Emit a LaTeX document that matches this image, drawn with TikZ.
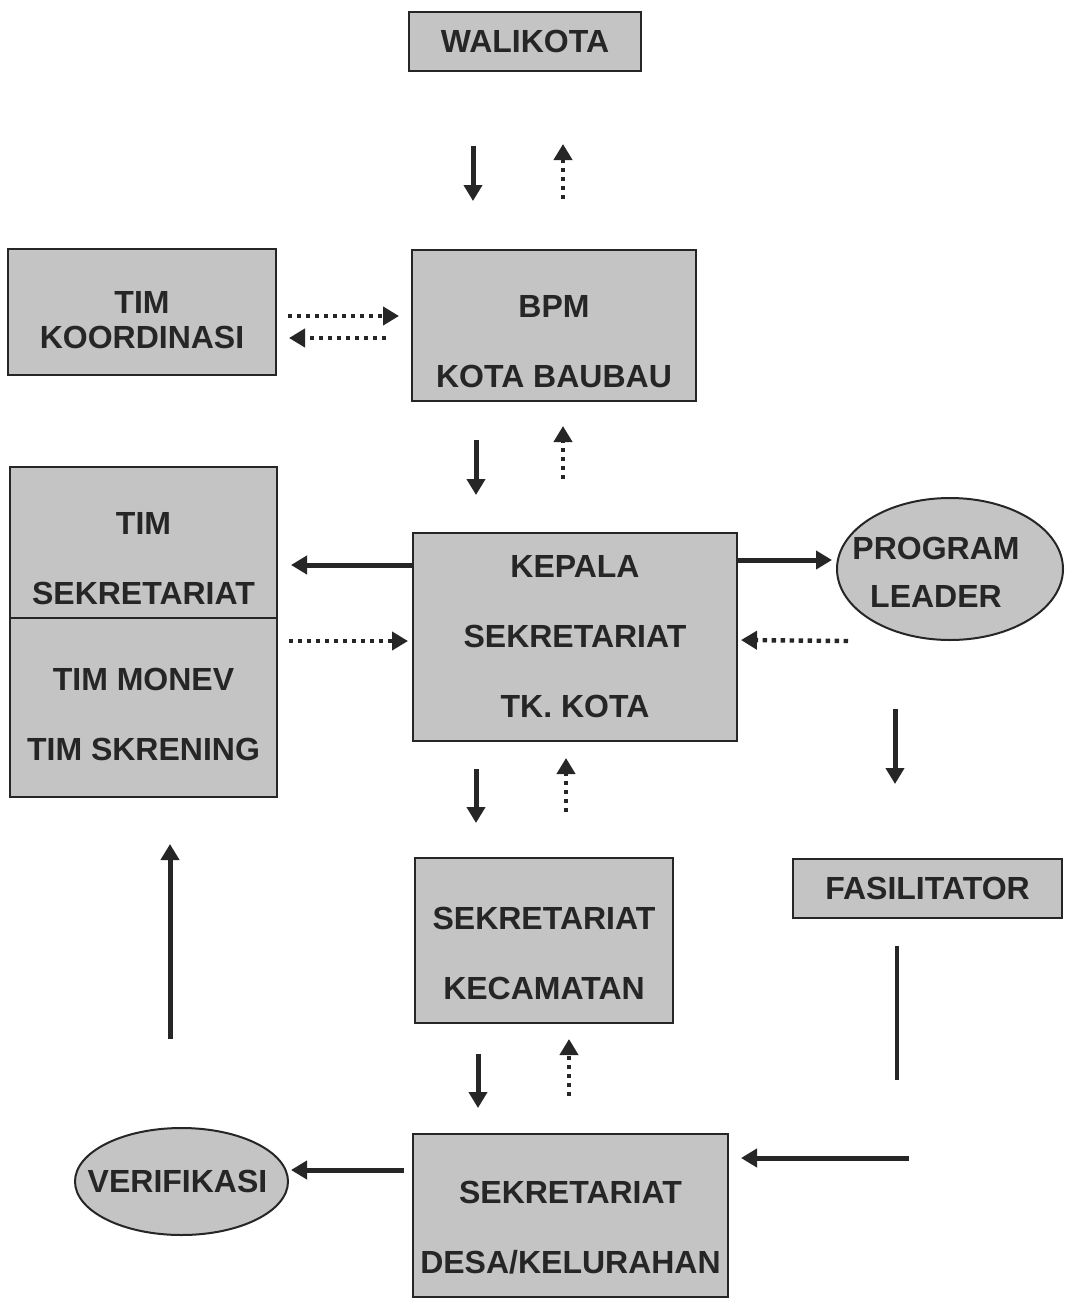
\documentclass[tikz,border=0pt]{standalone}
\usepackage{fontspec}
\setmainfont{Liberation Sans}
\usepackage{tikz}
\usetikzlibrary{arrows.meta,shapes.geometric,positioning}
\usepackage{xcolor}
\definecolor{boxgray}{HTML}{C4C4C4}
\definecolor{inkgray}{HTML}{262626}

\begin{document}
\begin{tikzpicture}[x=0.5pt,y=-0.5pt,
	box/.style={rectangle,draw=inkgray,line width=1pt,fill=boxgray,inner sep=0pt},
	oval/.style={ellipse,draw=inkgray,line width=1pt,fill=boxgray,inner sep=0pt},
	txt/.style={font=\bfseries\fontsize{16}{35}\selectfont,text=inkgray,align=center},
	flow/.style={draw=inkgray,line width=2.5pt,-{Triangle[length=8pt,width=9pt]}},
	back/.style={flow,line width=2.2pt,dash pattern=on 2.2pt off 2.3pt},
	plain/.style={draw=inkgray,line width=2pt}]
										\fill [white] (0, 0) rectangle (1065, 1301);
										\useasboundingbox (0, 0) rectangle (1065, 1301);
										% boxes
										\node [box, minimum width=116pt, minimum height=29.5pt, txt] (walikota) at (525, 41.5) {WALIKOTA};
										\node [box, minimum width=134pt, minimum height=63pt, label={[txt, font=\bfseries\fontsize{16}{17.5}\selectfont, yshift=-4pt]center:TIM\\KOORDINASI}] (koord) at (142, 312) {};
										\node [box, minimum width=142pt, minimum height=75.5pt, label={[txt, yshift=-8.25pt]center:BPM\\KOTA BAUBAU}] (bpm) at (554, 325.5) {};
										\node [box, minimum width=133.5pt, minimum height=75.5pt, label={[txt, yshift=-8pt]center:TIM\\SEKRETARIAT}] (timsek) at (143.5, 542.5) {};
										\node [box, minimum width=133.5pt, minimum height=89.5pt, label={[txt, yshift=-3.25pt]center:TIM MONEV\\TIM SKRENING}] (timmonev) at (143.5, 707.5) {};
										\node [box, minimum width=162pt, minimum height=104pt, txt] (kepala) at (575, 637) {KEPALA\\SEKRETARIAT\\TK. KOTA};
										\node [oval, minimum width=113pt, minimum height=71pt, label={[txt, font=\bfseries\fontsize{16}{24}\selectfont, xshift=-7pt, yshift=-1.5pt]center:PROGRAM\\LEADER}] (leader) at (950, 569) {};
										\node [box, minimum width=134.5pt, minimum height=29.5pt, txt] (fasil) at (927.5, 888.5) {FASILITATOR};
										\node [box, minimum width=129pt, minimum height=82.5pt, label={[txt, yshift=-6.25pt]center:SEKRETARIAT\\KECAMATAN}] (kecamatan) at (544, 940.5) {};
										\node [box, minimum width=157.5pt, minimum height=81.5pt, label={[txt, yshift=-6pt]center:SEKRETARIAT\\DESA/KELURAHAN}] (desa) at (570.5, 1215.5) {};
										\node [oval, minimum width=106.5pt, minimum height=53.5pt, label={[txt, xshift=-2pt]center:VERIFIKASI}] (verif) at (181.5, 1181.5) {};
										\coordinate (fasend) at (897, 1080);
										\coordinate (desain) at (909, 1158);
										% solid lines down, dotted lines back up
										\draw [flow, shorten <=37pt, shorten >=24pt] ([xshift=-26pt]walikota.south) -- ([xshift=-40.5pt]bpm.north);
										\draw [back, shorten <=25pt, shorten >=36pt] ([xshift=4.5pt]bpm.north) -- ([xshift=19pt]walikota.south);
										\draw [back, shorten <=5.5pt, shorten >=6pt] ([yshift=-2pt]koord.east) -- ([yshift=4.75pt]bpm.west);
										\draw [back, shorten <=12.5pt, shorten >=6pt] ([yshift=-6.25pt]bpm.west) -- ([yshift=-13pt]koord.east);
										\draw [flow, shorten <=19pt, shorten >=18.5pt] ([xshift=-39pt]bpm.south) -- ([xshift=-49.5pt]kepala.north);
										\draw [back, shorten <=26.5pt, shorten >=12pt] ([xshift=-6pt]kepala.north) -- ([xshift=4.5pt]bpm.south);
										\draw [flow, shorten >=6.5pt] ([yshift=36pt]kepala.west) -- ([yshift=-11.25pt]timsek.east);
										\draw [back, shorten <=5.5pt, shorten >=2pt] ([yshift=33.25pt]timmonev.east) -- ([yshift=-2pt]kepala.west);
										\draw [flow, shorten >=2pt] ([yshift=38.5pt]kepala.east) -- ([yshift=4.5pt]leader.west);
										\draw [back, shorten >=1.5pt] ([xshift=-51pt]leader.south) -- ([yshift=-1.5pt]kepala.east);
										\draw [flow, shorten <=34pt, shorten >=37pt] ([xshift=-27.5pt]leader.south) -- ([xshift=-16.25pt]fasil.north);
										\draw [flow, shorten <=13.5pt, shorten >=17pt] ([xshift=-49.5pt]kepala.south) -- ([xshift=-34pt]kecamatan.north);
										\draw [back, shorten <=22.5pt, shorten >=8pt] ([xshift=11pt]kecamatan.north) -- ([xshift=-4.5pt]kepala.south);
										\draw [flow, shorten <=15pt, shorten >=12.5pt] ([xshift=-33pt]kecamatan.south) -- ([xshift=-46.25pt]desa.north);
										\draw [back, shorten <=18.5pt, shorten >=7.5pt] ([xshift=-0.75pt]desa.north) -- ([xshift=12.5pt]kecamatan.south);
										\draw [plain, shorten <=13.5pt] ([xshift=-15.25pt]fasil.south) -- (fasend);
										\draw [flow, shorten >=6pt] (desain) -- ([yshift=28.75pt]desa.east);
										\draw [flow, shorten <=4pt, shorten >=1pt] ([yshift=22.75pt]desa.west) -- ([yshift=5.75pt]verif.east);
										\draw [flow, shorten <=44pt, shorten >=23pt] ([xshift=-5.75pt]verif.north) -- ([xshift=13.25pt]timmonev.south);
									\end{tikzpicture}
\end{document}
